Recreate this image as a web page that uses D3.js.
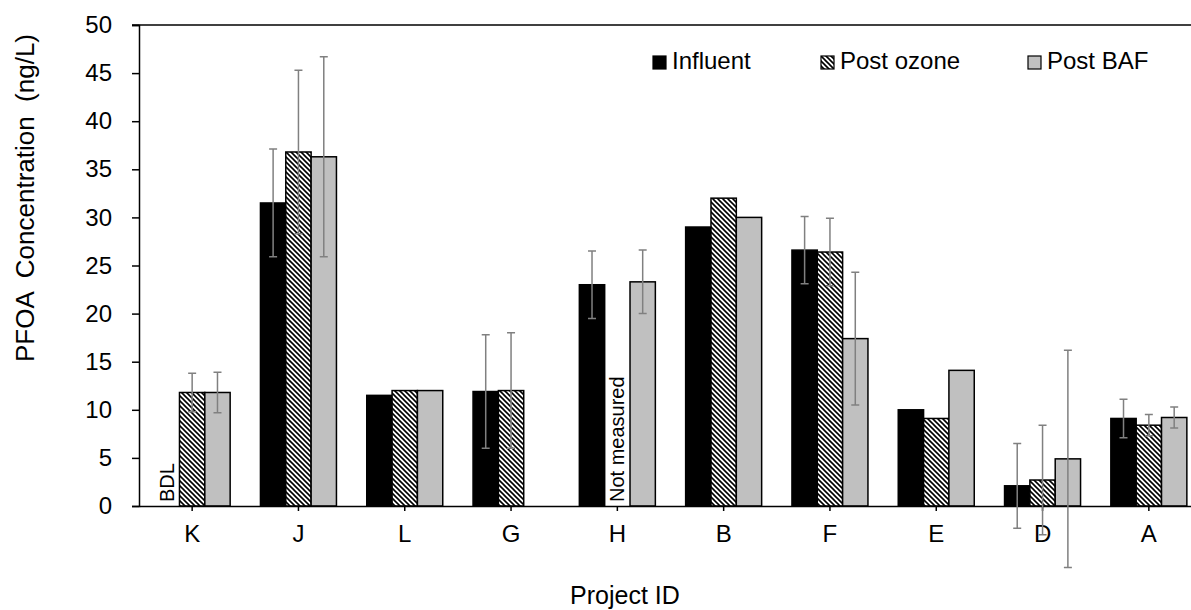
<!DOCTYPE html>
<html>
<head>
<meta charset="utf-8">
<script src="https://cdn.jsdelivr.net/npm/d3@7"></script>
<style>
  html, body { margin: 0; padding: 0; background: #fff; overflow: hidden; }
  svg { display: block; }
  text { font-family: "Liberation Sans", Arial, sans-serif; fill: #000; }
</style>
</head>
<body>
<div id="chart"></div>
<script>
// data
const categories = ["K", "J", "L", "G", "H", "B", "F", "E", "D", "A"];
const seriesNames = ["Influent", "Post ozone", "Post BAF"];
const influent  = [null, 31.5, 11.5, 11.9, 23.0, 29.0, 26.6, 10.0, 2.1, 9.1];
const postOzone = [11.8, 36.8, 12.0, 12.0, null, 32.0, 26.4, 9.1, 2.7, 8.4];
const postBAF   = [11.8, 36.3, 12.0, null, 23.3, 30.0, 17.4, 14.1, 4.9, 9.2];
const influentErr  = [null, 5.6, null, 5.9, 3.5, null, 3.5, null, 4.4, 2.0];
const postOzoneErr = [2.0, 8.5, null, 6.0, null, null, 3.5, null, 5.7, 1.1];
const postBAFErr   = [2.1, 10.4, null, null, 3.3, null, 6.9, null, 11.3, 1.1];
const yTicks = [0, 5, 10, 15, 20, 25, 30, 35, 40, 45, 50];
const notes = [
  { cat: "K", series: "Influent", text: "BDL" },
  { cat: "H", series: "Post ozone", text: "Not measured" }
];

const width = 1191, height = 610;
const margin = { top: 25, right: -11, bottom: 104, left: 139 };
const innerWidth = width - margin.left - margin.right;
const innerHeight = height - margin.top - margin.bottom;

const values = [influent, postOzone, postBAF];
const errors = [influentErr, postOzoneErr, postBAFErr];
const fills = ["#000", "url(#hatch)", "#c0c0c0"];

const svg = d3.select("#chart").append("svg")
  .attr("width", width)
  .attr("height", height);

// downward diagonal hatch
const pat = svg.append("defs").append("pattern")
  .attr("id", "hatch")
  .attr("patternUnits", "userSpaceOnUse")
  .attr("width", 5).attr("height", 5);
pat.append("rect").attr("width", 5).attr("height", 5).attr("fill", "#fff");
pat.append("path")
  .attr("d", "M0,0L5,5M-1,4L1,6M4,-1L6,1")
  .attr("stroke", "#000").attr("stroke-width", 1.6);

const g = svg.append("g")
  .attr("transform", "translate(" + margin.left + "," + margin.top + ")");

const x0 = d3.scaleBand().domain(categories).range([0, innerWidth]).paddingInner(0.285).paddingOuter(0.1425);
const x1 = d3.scaleBand().domain(seriesNames).range([0, x0.bandwidth()]);
const y = d3.scaleLinear().domain([0, 50]).range([innerHeight, 0]);

const rows = [];
categories.forEach((c, i) => {
  seriesNames.forEach((s, k) => {
    rows.push({ cat: c, series: s, k: k, v: values[k][i], e: errors[k][i] });
  });
});

// bars
g.selectAll("rect.bar")
  .data(rows.filter(d => d.v != null))
  .join("rect")
  .attr("class", "bar")
  .attr("x", d => x0(d.cat) + x1(d.series))
  .attr("y", d => y(d.v))
  .attr("width", x1.bandwidth())
  .attr("height", d => y(0) - y(d.v))
  .attr("fill", d => fills[d.k])
  .attr("stroke", "#000")
  .attr("stroke-width", 1.5);

// axes
const yAxis = d3.axisLeft(y).tickValues(yTicks).tickSize(7).tickPadding(20);
const ya = g.append("g").call(yAxis);
ya.select(".domain").attr("stroke", "#000").attr("stroke-width", 1.5);
ya.selectAll(".tick line").attr("stroke", "#000").attr("stroke-width", 1.5);
ya.selectAll(".tick text").attr("font-size", 24).attr("font-family", "Liberation Sans");

const xAxis = d3.axisBottom(x0).tickSize(5).tickSizeOuter(0).tickPadding(14);
const xa = g.append("g").attr("transform", "translate(0," + innerHeight + ")").call(xAxis);
xa.select(".domain").attr("stroke", "#000").attr("stroke-width", 1.5);
xa.selectAll(".tick line").attr("stroke", "#000").attr("stroke-width", 1.5);
xa.selectAll(".tick text").attr("font-size", 24).attr("font-family", "Liberation Sans");

// top border
g.append("line")
  .attr("x1", -7).attr("x2", width - margin.left)
  .attr("y1", 0).attr("y2", 0)
  .attr("stroke", "#000").attr("stroke-width", 1.5);

// error bars
const eg = g.append("g").attr("stroke", "#808080").attr("stroke-width", 1.5).attr("fill", "none");
rows.filter(d => d.e != null).forEach(d => {
  const cx = x0(d.cat) + x1(d.series) + x1.bandwidth() / 2;
  const yt = y(d.v + d.e), yb = y(d.v - d.e);
  eg.append("path")
    .attr("d", "M" + cx + "," + yt + "V" + yb +
      "M" + (cx - 4) + "," + yt + "H" + (cx + 4) +
      "M" + (cx - 4) + "," + yb + "H" + (cx + 4));
});

// annotations
g.selectAll("text.note")
  .data(notes)
  .join("text")
  .attr("class", "note")
  .attr("transform", d => {
    const cx = x0(d.cat) + x1(d.series) + x1.bandwidth() / 2;
    return "translate(" + (cx + 7) + "," + (innerHeight - 4) + ") rotate(-90)";
  })
  .attr("font-size", 20)
  .text(d => d.text);

// axis titles
svg.append("text")
  .attr("x", 625).attr("y", 604)
  .attr("text-anchor", "middle")
  .attr("font-size", 25)
  .text("Project ID");

svg.append("text")
  .attr("transform", "translate(34,198) rotate(-90)")
  .attr("text-anchor", "middle")
  .attr("font-size", 26)
  .attr("xml:space", "preserve")
  .style("white-space", "pre")
  .text("PFOA  Concentration  (ng/L)");

// legend
const legendX = [653, 821, 1028];
const lg = svg.append("g");
seriesNames.forEach((s, k) => {
  lg.append("rect")
    .attr("x", legendX[k]).attr("y", 56)
    .attr("width", 13).attr("height", 13)
    .attr("fill", fills[k]).attr("stroke", "#000").attr("stroke-width", 1.2);
  lg.append("text")
    .attr("x", legendX[k] + 19).attr("y", 69)
    .attr("font-size", 24)
    .text(s);
});
</script>
</body>
</html>
